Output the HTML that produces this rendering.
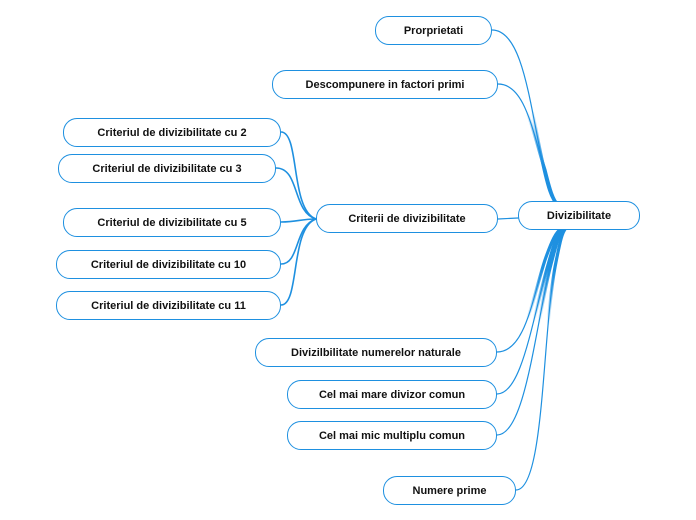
<!DOCTYPE html>
<html><head><meta charset="utf-8"><style>
body{margin:0;width:696px;height:520px;background:#fff;overflow:hidden;position:relative;font-family:"Liberation Sans","DejaVu Sans",sans-serif}
.n{position:absolute;box-sizing:border-box;border:1.5px solid #1e90e0;border-radius:14px;background:#fff;display:flex;align-items:center;justify-content:center;font-size:11px;font-weight:bold;color:#111;white-space:nowrap}
svg{position:absolute;left:0;top:0}
</style></head><body>
<svg width="696" height="520" fill="none" stroke="#1e90e0" stroke-linecap="round">
<defs>
<radialGradient id="g" cx="562" cy="216" r="110" gradientUnits="userSpaceOnUse">
<stop offset="0" stop-color="#fff"/><stop offset="0.5" stop-color="#fff"/><stop offset="1" stop-color="#000"/>
</radialGradient>
<mask id="m"><rect width="696" height="520" fill="url(#g)"/></mask>
<g id="main">
<path d="M492,30 C520,30 528,90 540,150 C548,190 552,200 558,205"/>
<path d="M498,84 C525,84 532,130 545,170 C550,190 553,200 558,205"/>
<path d="M497,352 C525,352 532,300 545,260 C552,240 556,232 562,228"/>
<path d="M497,394 C522,394 532,320 548,265 C555,240 558,232 563,228"/>
<path d="M497,435 C525,435 535,330 550,268 C556,245 559,233 564,228"/>
<path d="M516,490 C545,490 542,330 556,262 C560,242 562,232 566,228"/>
</g>
</defs>
<use href="#main" stroke-width="1.2"/>
<use href="#main" stroke-width="3.2" mask="url(#m)"/>
<path d="M498,219 L518,218" stroke-width="1.2"/>
<g stroke-width="1.6">
<path d="M281,132 C300,132 290,210 316,219"/>
<path d="M276,168 C300,168 292,212 316,219"/>
<path d="M281,222 C298,222 300,219 316,219"/>
<path d="M281,264 C300,264 294,226 316,219"/>
<path d="M281,305 C300,305 290,228 316,219"/>
</g>
</svg>
<div class="n" style="left:375px;top:16px;width:117px;height:29px">Prorprietati</div>
<div class="n" style="left:272px;top:70px;width:226px;height:29px">Descompunere in factori primi</div>
<div class="n" style="left:63px;top:118px;width:218px;height:29px">Criteriul de divizibilitate cu 2</div>
<div class="n" style="left:58px;top:154px;width:218px;height:29px">Criteriul de divizibilitate cu 3</div>
<div class="n" style="left:63px;top:208px;width:218px;height:29px">Criteriul de divizibilitate cu 5</div>
<div class="n" style="left:56px;top:250px;width:225px;height:29px">Criteriul de divizibilitate cu 10</div>
<div class="n" style="left:56px;top:291px;width:225px;height:29px">Criteriul de divizibilitate cu 11</div>
<div class="n" style="left:316px;top:204px;width:182px;height:29px">Criterii de divizibilitate</div>
<div class="n" style="left:518px;top:201px;width:122px;height:29px">Divizibilitate</div>
<div class="n" style="left:255px;top:338px;width:242px;height:29px">Divizilbilitate numerelor naturale</div>
<div class="n" style="left:287px;top:380px;width:210px;height:29px">Cel mai mare divizor comun</div>
<div class="n" style="left:287px;top:421px;width:210px;height:29px">Cel mai mic multiplu comun</div>
<div class="n" style="left:383px;top:476px;width:133px;height:29px">Numere prime</div>
</body></html>
